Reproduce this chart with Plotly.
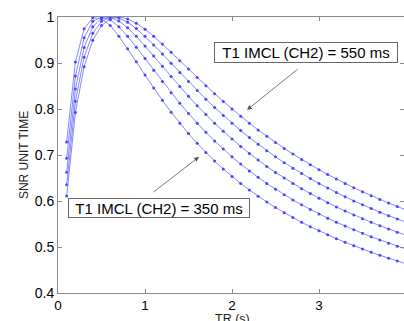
import plotly.graph_objects as go

tr = [0.1, 0.2, 0.3, 0.4, 0.5, 0.6, 0.7, 0.8, 0.9, 1.0,
      1.1, 1.2, 1.3, 1.4, 1.5, 1.6, 1.7, 1.8, 1.9, 2.0,
      2.1, 2.2, 2.3, 2.4, 2.5, 2.6, 2.7, 2.8, 2.9, 3.0,
      3.1, 3.2, 3.3, 3.4, 3.5, 3.6, 3.7, 3.8, 3.9, 4.0]

snr_350 = [0.7285, 0.9023, 0.9743, 0.9983, 0.9968, 0.9813, 0.9581, 0.9310, 0.9025, 0.8738,
           0.8457, 0.8188, 0.7932, 0.7691, 0.7465, 0.7253, 0.7055, 0.6869, 0.6696, 0.6533,
           0.6381, 0.6238, 0.6104, 0.5978, 0.5859, 0.5746, 0.5639, 0.5538, 0.5442, 0.5351,
           0.5264, 0.5182, 0.5103, 0.5027, 0.4955, 0.4886, 0.4819, 0.4755, 0.4694, 0.4635]
snr_400 = [0.6932, 0.8719, 0.9547, 0.9905, 1.0000, 0.9939, 0.9787, 0.9580, 0.9345, 0.9097,
           0.8845, 0.8596, 0.8355, 0.8123, 0.7901, 0.7691, 0.7492, 0.7305, 0.7128, 0.6960,
           0.6803, 0.6654, 0.6514, 0.6381, 0.6256, 0.6137, 0.6024, 0.5917, 0.5815, 0.5719,
           0.5626, 0.5538, 0.5454, 0.5374, 0.5297, 0.5223, 0.5152, 0.5084, 0.5018, 0.4955]
snr_450 = [0.6624, 0.8434, 0.9338, 0.9787, 0.9972, 0.9993, 0.9912, 0.9766, 0.9580, 0.9372,
           0.9153, 0.8929, 0.8706, 0.8488, 0.8276, 0.8073, 0.7878, 0.7691, 0.7514, 0.7346,
           0.7186, 0.7034, 0.6889, 0.6752, 0.6622, 0.6499, 0.6381, 0.6269, 0.6163, 0.6061,
           0.5964, 0.5871, 0.5783, 0.5698, 0.5616, 0.5538, 0.5463, 0.5391, 0.5322, 0.5255]
snr_500 = [0.6351, 0.8168, 0.9127, 0.9647, 0.9905, 0.9996, 0.9977, 0.9887, 0.9749, 0.9580,
           0.9394, 0.9197, 0.8996, 0.8795, 0.8596, 0.8403, 0.8214, 0.8033, 0.7859, 0.7691,
           0.7531, 0.7378, 0.7232, 0.7093, 0.6960, 0.6834, 0.6713, 0.6597, 0.6487, 0.6381,
           0.6280, 0.6184, 0.6091, 0.6002, 0.5917, 0.5835, 0.5757, 0.5681, 0.5608, 0.5538]
snr_550 = [0.6109, 0.7922, 0.8920, 0.9495, 0.9813, 0.9963, 0.9999, 0.9959, 0.9865, 0.9734,
           0.9580, 0.9411, 0.9233, 0.9051, 0.8868, 0.8686, 0.8508, 0.8334, 0.8164, 0.8001,
           0.7843, 0.7691, 0.7546, 0.7406, 0.7272, 0.7143, 0.7020, 0.6902, 0.6789, 0.6681,
           0.6577, 0.6477, 0.6381, 0.6289, 0.6201, 0.6116, 0.6034, 0.5955, 0.5880, 0.5806]

series = [snr_350, snr_400, snr_450, snr_500, snr_550]

x_ticks = [0, 1, 2, 3, 4]
y_ticks = [0.4, 0.5, 0.6, 0.7, 0.8, 0.9, 1.0]
y_tick_text = ["0.4", "0.5", "0.6", "0.7", "0.8", "0.9", "1"]

label_550 = "T1 IMCL (CH2) = 550 ms"
label_350 = "T1 IMCL (CH2) = 350 ms"

FONT = "Arial, Liberation Sans, Helvetica, sans-serif"
AXC = "#8a8a8a"

fig = go.Figure()
for s in series:
    fig.add_trace(go.Scatter(
        x=tr, y=s, mode="lines+markers",
        line=dict(color="rgb(120,120,255)", width=0.9),
        marker=dict(color="rgb(70,70,255)", size=3),
        showlegend=False, hoverinfo="skip"))

fig.update_layout(
    width=404, height=321,
    margin=dict(l=58, r=0, t=17, b=28),
    paper_bgcolor="white", plot_bgcolor="white",
    font=dict(family=FONT, color="black"),
    xaxis=dict(range=[0, 3.977], tickvals=x_ticks, ticks="inside", ticklen=4,
               tickcolor=AXC, showline=True, linecolor=AXC, linewidth=1,
               mirror="ticks", showgrid=False, zeroline=False,
               tickfont=dict(size=13.5, family=FONT, color="black")),
    yaxis=dict(range=[0.4, 1.0], tickvals=y_ticks, ticktext=y_tick_text,
               ticks="inside", ticklen=4, tickcolor=AXC, showline=True,
               linecolor=AXC, linewidth=1, mirror="ticks", showgrid=False,
               zeroline=False, tickfont=dict(size=14, family=FONT, color="black")),
)

# axis titles
fig.add_annotation(text="SNR UNIT TIME", xref="paper", yref="paper",
                   x=-0.098, y=0.5, textangle=-90, showarrow=False,
                   xanchor="center", yanchor="middle",
                   font=dict(size=12, family=FONT, color="#222"))
fig.add_annotation(text="TR (s)", xref="paper", yref="paper",
                   x=0.503, y=-0.062, showarrow=False,
                   xanchor="center", yanchor="top",
                   font=dict(size=12.5, family=FONT, color="#222"))

# arrows
fig.add_annotation(x=2.173, y=0.798, ax=2.77, ay=0.889, xref="x", yref="y",
                   axref="x", ayref="y", text="", showarrow=True,
                   arrowhead=2, arrowsize=1.2, arrowwidth=0.8, arrowcolor="#555")
fig.add_annotation(x=1.621, y=0.696, ax=1.081, ay=0.617, xref="x", yref="y",
                   axref="x", ayref="y", text="", showarrow=True,
                   arrowhead=2, arrowsize=1.2, arrowwidth=0.8, arrowcolor="#555")

# text boxes
fig.add_annotation(x=2.846, y=0.9228, xref="x", yref="y", text=label_550,
                   showarrow=False, width=182, height=19, align="center",
                   bgcolor="white", bordercolor="#666", borderwidth=1, borderpad=0,
                   font=dict(size=15, family=FONT, color="black"))
fig.add_annotation(x=1.161, y=0.585, xref="x", yref="y", text=label_350,
                   showarrow=False, width=180, height=18, align="center",
                   bgcolor="white", bordercolor="#666", borderwidth=1, borderpad=0,
                   font=dict(size=15, family=FONT, color="black"))

fig.write_html("out.html", config={"displayModeBar": False},
               post_script="document.body.style.margin='0';document.body.style.padding='0';document.body.style.overflow='hidden';")
